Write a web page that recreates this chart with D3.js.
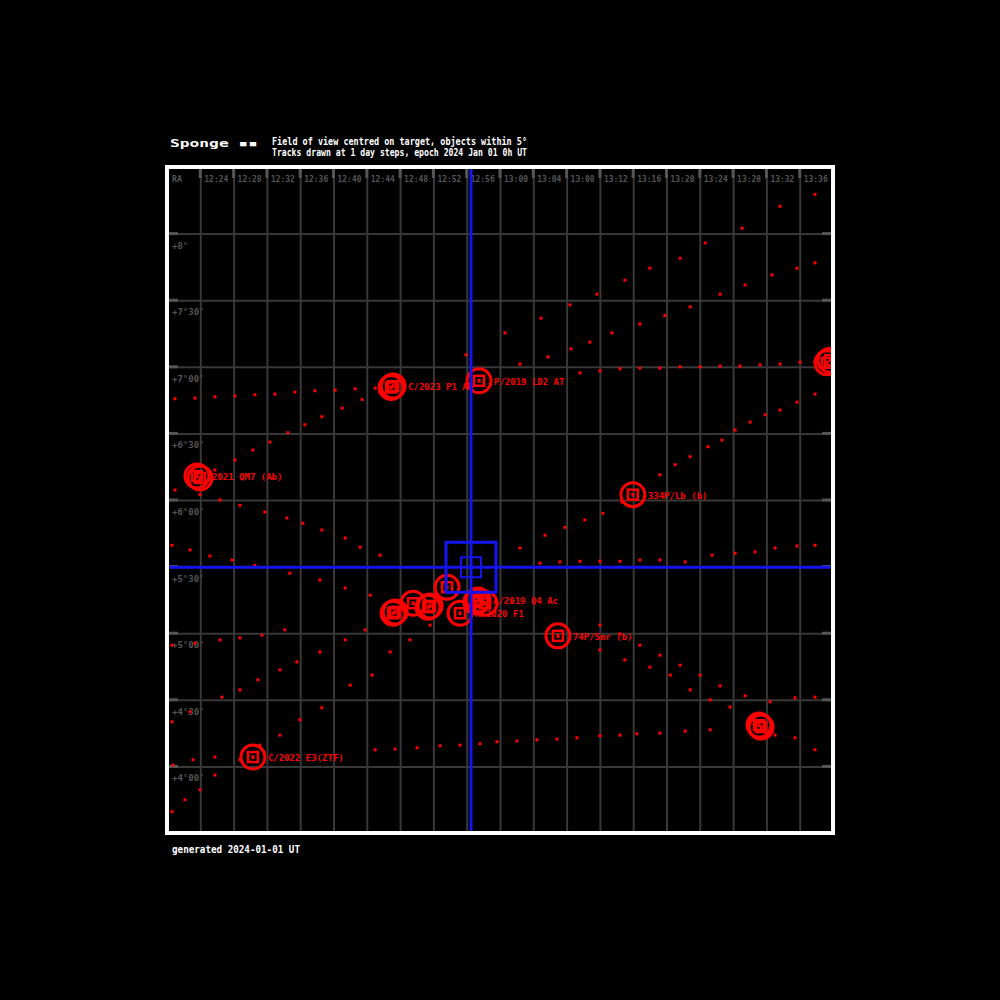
<!DOCTYPE html>
<html><head><meta charset="utf-8">
<script src="https://cdn.jsdelivr.net/npm/d3@7"></script>
<style>body{margin:0;background:#000}svg{display:block}</style></head>
<body><svg id="chart" width="1000" height="1000"></svg>
<script>
// ---------- data ----------
const titleLead = "Sponge  \u25aa\u25aa";
const titleLines = ["Field of view centred on target, objects within 5\u00b0", "Tracks drawn at 1 day steps, epoch 2024 Jan 01 0h UT"];
const footerText = "generated 2024-01-01  UT";
const xTickLabels = ["RA","12:24","12:28","12:32","12:36","12:40","12:44","12:48","12:52","12:56","13:00","13:04","13:08","13:12","13:16","13:20","13:24","13:28","13:32","13:36"];
const yTickValues = [9,8,7,6,5,4,3,2,1];
const yTickLabels = ["+8\u00b0","+7\u00b030'","+7\u00b000'","+6\u00b030'","+6\u00b000'","+5\u00b030'","+5\u00b000'","+4\u00b030'","+4\u00b000'"];

const trackA = [[0.24,6.52],[0.84,6.53],[1.44,6.55],[2.04,6.56],[2.64,6.58],[3.24,6.59],[3.84,6.62],[4.44,6.64],[5.05,6.65],[5.65,6.67],[6.25,6.68]];
const trackB = [[8.98,7.18],[10.15,7.51],[11.23,7.73],[12.10,7.93],[12.91,8.09],[13.75,8.30],[14.50,8.48],[15.41,8.63],[16.16,8.86],[17.27,9.08],[18.41,9.41],[19.46,9.59]];
const trackC = [[10.60,7.04],[11.44,7.15],[12.13,7.27],[12.70,7.37],[13.36,7.51],[14.20,7.64],[14.95,7.77],[15.71,7.90],[16.61,8.09],[17.36,8.23],[18.17,8.38],[18.92,8.48],[19.46,8.56]];
const trackD = [[12.40,6.91],[13.00,6.94],[13.60,6.97],[14.20,6.98],[14.80,6.98],[15.41,7.00],[16.01,7.00],[16.61,7.01],[17.21,7.01],[17.81,7.03],[18.41,7.04],[19.01,7.07],[19.46,7.07]];
const trackE = [[0.24,5.15],[0.84,5.30],[1.44,5.45],[2.04,5.60],[2.58,5.75],[3.09,5.87],[3.63,6.01],[4.14,6.13],[4.65,6.25],[5.26,6.38],[5.86,6.51],[6.40,6.61]];
const trackF = [[10.60,4.28],[11.35,4.47],[11.95,4.59],[12.55,4.70],[13.09,4.80],[13.66,4.97],[14.80,5.38],[15.26,5.53],[15.71,5.65],[16.25,5.80],[16.67,5.90],[17.06,6.05],[17.51,6.17],[17.96,6.28],[18.41,6.35],[18.92,6.47],[19.46,6.59]];
const trackG = [[11.20,4.05],[11.80,4.07],[12.40,4.08],[13.00,4.08],[13.60,4.08],[14.20,4.10],[14.80,4.10],[15.56,4.07],[16.37,4.17],[17.06,4.20],[17.66,4.22],[18.26,4.28],[18.92,4.31],[19.46,4.32]];
const trackH = [[13.00,3.12],[13.60,2.99],[14.20,2.82],[14.80,2.67],[15.41,2.52],[16.01,2.37],[16.61,2.21],[17.36,2.06],[18.11,1.97],[18.86,2.03],[19.46,2.04]];
const trackI = [[13.00,2.75],[13.75,2.60],[14.50,2.49],[15.11,2.37],[15.71,2.15],[16.31,2.00],[16.91,1.89],[17.51,1.73],[18.26,1.47],[18.86,1.43],[19.46,1.25]];
const trackJ = [[6.25,1.25],[6.85,1.26],[7.51,1.28],[8.20,1.31],[8.80,1.32],[9.40,1.34],[9.91,1.37],[10.51,1.38],[11.11,1.40],[11.71,1.41],[12.31,1.43],[13.00,1.46],[13.60,1.47],[14.11,1.49],[14.80,1.50],[15.56,1.53],[16.31,1.55]];
const trackK = [[7.90,3.12],[7.30,2.90],[6.70,2.72],[6.16,2.37],[5.50,2.22],[4.65,1.88],[3.99,1.70],[3.39,1.47],[2.79,1.32],[2.19,1.10],[1.44,0.87],[0.99,0.65],[0.54,0.50],[0.15,0.32]];
const trackL = [[0.15,1.67],[0.69,1.82],[1.65,2.04],[2.19,2.15],[2.73,2.30],[3.39,2.45],[3.90,2.57],[4.59,2.72],[5.35,2.90],[5.95,3.05]];
const trackM = [[0.15,4.32],[0.69,4.25],[1.29,4.16],[1.95,4.10],[2.64,4.02],[3.69,3.90],[4.59,3.80],[5.35,3.68],[6.10,3.57]];
const trackN = [[0.99,5.08],[1.59,5.00],[2.19,4.92],[2.94,4.82],[3.60,4.73],[4.08,4.65],[4.65,4.55],[5.35,4.43],[5.80,4.29],[6.40,4.17]];
const trackO = [[0.15,2.82],[0.84,2.85],[1.59,2.90],[2.19,2.93],[2.85,2.97],[3.54,3.05]];
const trackP = [[0.18,1.02],[0.78,1.10],[1.44,1.14]];
const tracks = [trackA,trackB,trackC,trackD,trackE,trackF,trackG,trackH,trackI,trackJ,trackK,trackL,trackM,trackN,trackO,trackP];

const objectNames = ["C/2023 P1 Ab","P/2019 LD2 AT","2021 QM7 (Ab)","334P/Lb (b)","","74P/Smr (b)","","C/2022 E3(ZTF)","","","","","A/2020 F1","A/2019 Q4 Ac",""];
const objectX  = [6.79,9.37,0.90,13.99,19.91,11.74,17.84,2.58,6.85,7.39,7.90,8.41,8.80,9.34,9.55];
const objectY  = [6.71,6.79,5.36,5.08,7.10,2.96,1.59,1.14,3.32,3.45,3.41,3.69,3.30,3.50,3.45];
const objectX2 = [6.73,null,0.99,null,19.82,null,17.78,null,6.79,null,7.84,null,null,9.28,null];
const objectY2 = [6.69,null,5.33,null,7.06,null,1.62,null,3.30,null,3.39,null,null,3.47,null];

const targetX = 9.13, targetY = 3.99;
const fovHalfBig = 0.75, fovHalfSmall = 0.30;

// ---------- drawing ----------
const svg = d3.select("#chart");
svg.append("rect").attr("width",1000).attr("height",1000).attr("fill","#000");
const x = d3.scaleLinear().domain([0,20]).range([167,833]);
const y = d3.scaleLinear().domain([0,10]).range([833,167]);
const font = "'DejaVu Sans Mono', monospace";
const RED = "#ff0000";

svg.append("clipPath").attr("id","pc").append("rect")
  .attr("x",167).attr("y",167).attr("width",666).attr("height",666);

// grid via axes
const gx = svg.append("g").attr("transform",`translate(0,${y(10)})`)
  .call(d3.axisTop(x).ticks(20).tickSize(-(y(0)-y(10))).tickFormat(""));
const gy = svg.append("g").attr("transform",`translate(${x(0)},0)`)
  .call(d3.axisLeft(y).ticks(10).tickSize(-(x(20)-x(0))).tickFormat(""));
[gx,gy].forEach(g=>{g.select(".domain").remove();g.selectAll("line").attr("stroke","#383838").attr("stroke-width",2);});

// tick stubs
const stubs = svg.append("g").attr("stroke","#555").attr("stroke-width",3);
d3.range(1,10).forEach(v=>{
  stubs.append("line").attr("x1",x(0)).attr("x2",x(0)+11).attr("y1",y(v)).attr("y2",y(v));
  stubs.append("line").attr("x1",x(20)-11).attr("x2",x(20)).attr("y1",y(v)).attr("y2",y(v));
});
d3.range(1,20).forEach(v=>{
  stubs.append("line").attr("x1",x(v)).attr("x2",x(v)).attr("y1",y(10)).attr("y2",y(10)+11);
});

// tick labels
svg.append("g").selectAll("text").data(xTickLabels).join("text")
  .attr("x",(d,i)=>x(i)+(i===0?5:4)).attr("y",y(10)+15)
  .attr("fill","#555").attr("font-family",font).attr("font-size",9).attr("font-weight","bold")
  .attr("textLength",(d,i)=>i===0?10:24).attr("lengthAdjust","spacingAndGlyphs")
  .text(d=>d);
svg.append("g").selectAll("text").data(yTickLabels).join("text")
  .attr("x",x(0)+5).attr("y",(d,i)=>y(yTickValues[i])+15)
  .attr("fill","#555").attr("font-family",font).attr("font-size",9).attr("font-weight","bold")
  .text(d=>d);

// tracks
const pts = svg.append("g").attr("clip-path","url(#pc)");
tracks.forEach(t=>{
  pts.append("g").selectAll("rect").data(t).join("rect")
    .attr("x",d=>x(d[0])-1.5).attr("y",d=>y(d[1])-1.5).attr("width",3).attr("height",3).attr("fill",RED);
});

// objects
const og = svg.append("g").attr("clip-path","url(#pc)");
function drawMarker(px,py){
  og.append("circle").attr("cx",px).attr("cy",py).attr("r",12).attr("fill","none").attr("stroke",RED).attr("stroke-width",3);
  og.append("rect").attr("x",px-5).attr("y",py-5).attr("width",10).attr("height",10).attr("fill","none").attr("stroke",RED).attr("stroke-width",2.5);
  og.append("rect").attr("x",px-1.5).attr("y",py-2).attr("width",3).attr("height",4).attr("fill",RED);
}
objectX.forEach((ox,i)=>{
  drawMarker(x(ox),y(objectY[i]));
  if(objectX2[i]!==null) drawMarker(x(objectX2[i]),y(objectY2[i]));
});
objectX.forEach((ox,i)=>{
  if(objectNames[i]) og.append("text").attr("x",x(ox)+15).attr("y",y(objectY[i])+4)
    .attr("fill",RED).attr("font-family",font).attr("font-size",9).attr("font-weight","bold")
    .text(objectNames[i]);
});

// target crosshair and field of view
const cross = svg.append("g").attr("stroke","#1414f0").attr("fill","none").attr("clip-path","url(#pc)");
cross.append("line").attr("x1",x(targetX)).attr("x2",x(targetX)).attr("y1",y(10)).attr("y2",y(0)).attr("stroke-width",3);
cross.append("line").attr("x1",x(0)).attr("x2",x(20)).attr("y1",y(targetY)).attr("y2",y(targetY)).attr("stroke-width",3);
const hb = x(fovHalfBig)-x(0), hs = x(fovHalfSmall)-x(0);
cross.append("rect").attr("x",x(targetX)-hb).attr("y",y(targetY)-hb).attr("width",2*hb).attr("height",2*hb).attr("stroke-width",3);
cross.append("rect").attr("x",x(targetX)-hs).attr("y",y(targetY)-hs).attr("width",2*hs).attr("height",2*hs).attr("stroke-width",2);

// frame
svg.append("rect").attr("x",x(0)).attr("y",y(10)).attr("width",x(20)-x(0)).attr("height",y(0)-y(10))
  .attr("fill","none").attr("stroke","#fff").attr("stroke-width",4);

// title & footer
svg.append("text").attr("x",170).attr("y",147).attr("fill","#fff").attr("font-family",font)
  .attr("font-size",11).attr("font-weight","bold").attr("textLength",88).attr("lengthAdjust","spacingAndGlyphs").text(titleLead);
titleLines.forEach((t,i)=>svg.append("text").attr("x",272).attr("y",145+i*11).attr("fill","#fff")
  .attr("font-family",font).attr("font-size",10).attr("font-weight","bold")
  .attr("textLength",255).attr("lengthAdjust","spacingAndGlyphs").text(t));
svg.append("text").attr("x",172).attr("y",853).attr("fill","#fff").attr("font-family",font)
  .attr("font-size",10).attr("font-weight","bold").attr("textLength",128).attr("lengthAdjust","spacingAndGlyphs").text(footerText);
</script></body></html>
